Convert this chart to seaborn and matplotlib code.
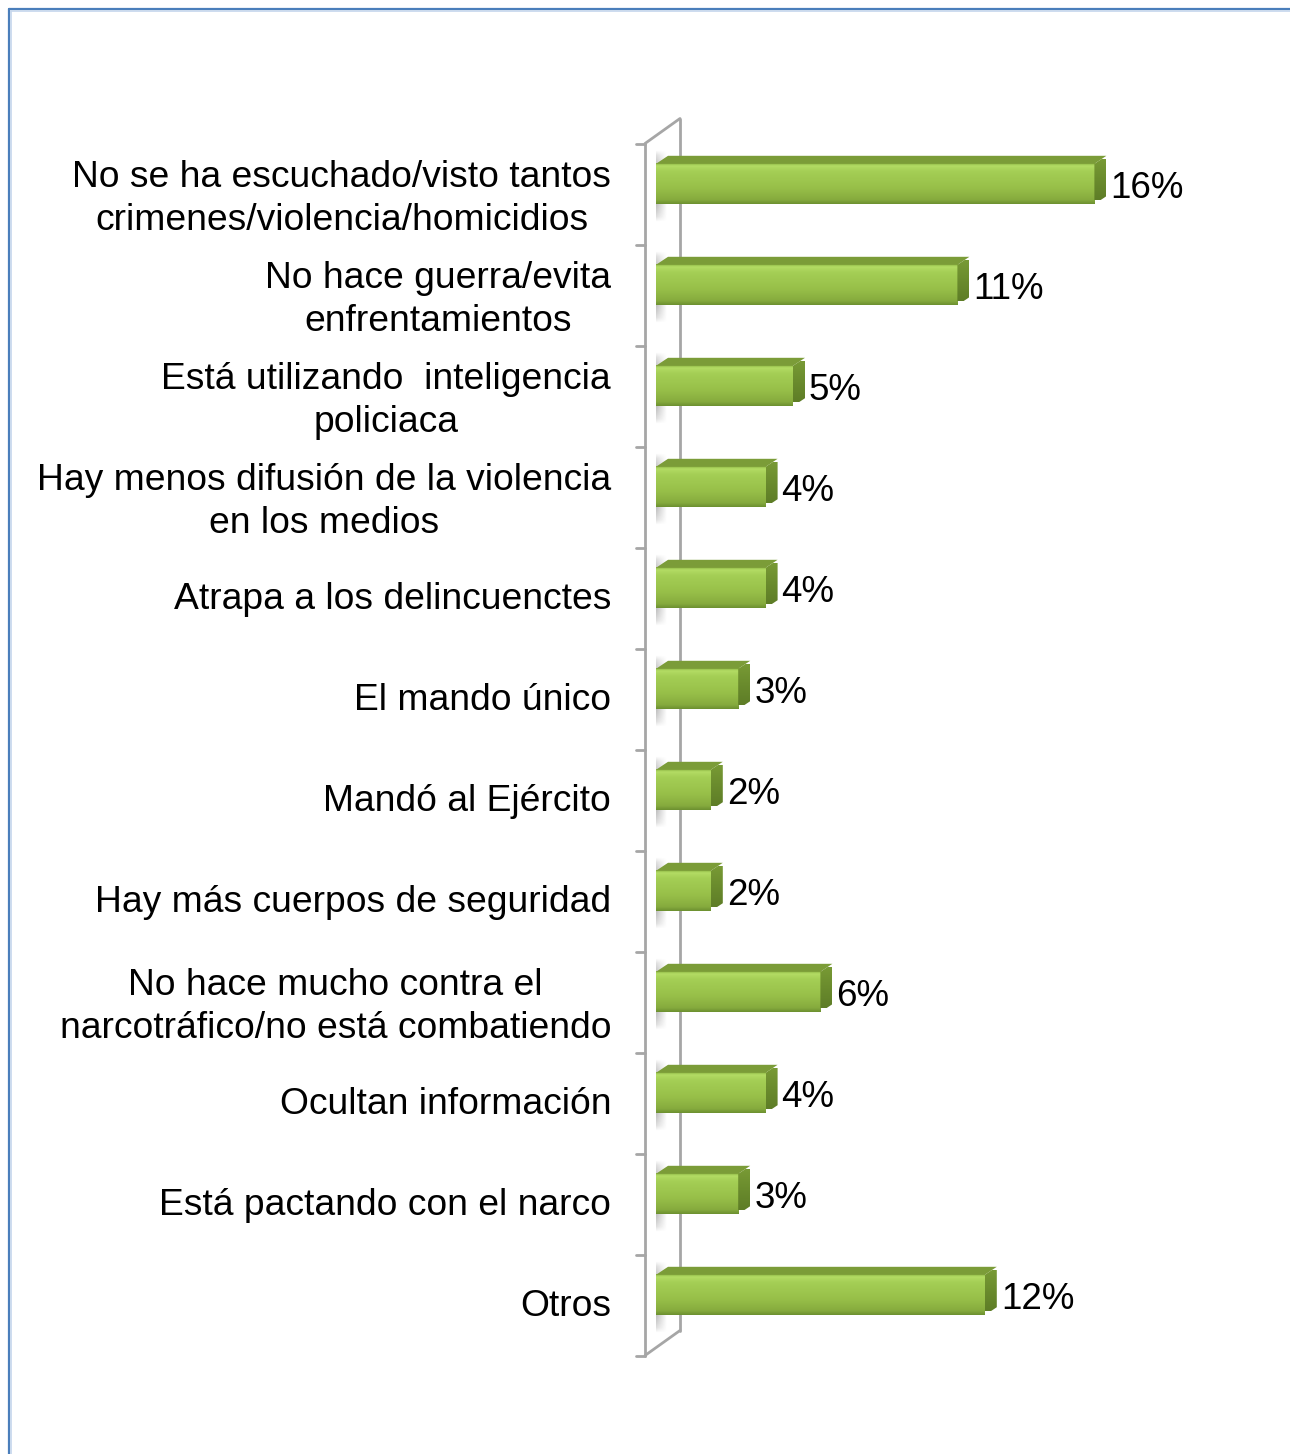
import numpy as np
import seaborn as sns
import matplotlib.pyplot as plt
from matplotlib.colors import LinearSegmentedColormap
from matplotlib.patches import Polygon
from matplotlib.lines import Line2D

categories = [
    "No se ha escuchado/visto tantos\ncrimenes/violencia/homicidios",
    "No hace guerra/evita\nenfrentamientos",
    "Está utilizando  inteligencia\npoliciaca",
    "Hay menos difusión de la violencia\nen los medios",
    "Atrapa a los delincuenctes",
    "El mando único",
    "Mandó al Ejército",
    "Hay más cuerpos de seguridad",
    "No hace mucho contra el\nnarcotráfico/no está combatiendo",
    "Ocultan información",
    "Está pactando con el narco",
    "Otros",
]
values = [16, 11, 5, 4, 4, 3, 2, 2, 6, 4, 3, 12]
value_labels = [f"{v}%" for v in values]

sns.set_style('white')
plt.rcParams['font.family'] = ['Liberation Sans', 'DejaVu Sans']
plt.rcParams['text.color'] = 'black'
plt.rcParams['ytick.color'] = 'black'
plt.rcParams['ytick.labelcolor'] = 'black'

W, H = 1290, 1454
fig = plt.figure(figsize=(W / 100, H / 100), dpi=100)
px = 27.4  # pixels per percent
x_left, y_top, y_bot = 656, 133.5, 1345.5
ax = fig.add_axes([x_left / W, 1 - y_bot / H, (W - x_left) / W, (y_bot - y_top) / H])

sns.barplot(x=values, y=categories, orient='h', color='#9bc44a', width=0.4,
            saturation=1, ax=ax, zorder=3)

xmax = (W - x_left) / px
ppu = (y_bot - y_top) / 12.0  # pixels per category unit
dx = 12 / px
dy = -8 / ppu

front = LinearSegmentedColormap.from_list('front', [
    (0.0, '#8db543'), (0.06, '#b3dc64'), (0.2, '#a4ce55'),
    (0.6, '#98c049'), (0.9, '#86ab3e'), (1.0, '#6d9131')])
grad = front(np.linspace(0, 1, 64))[:, None, :]
side = LinearSegmentedColormap.from_list('side', ['#789a35', '#6a8b2d', '#5e7d27'])
sgrad = side(np.linspace(0, 1, 64))[:, None, :]

shadow = np.zeros((16, 32, 4))
shadow[..., :3] = 0.55
fade_x = np.linspace(0.7, 0.0, 32)
fade_y = np.sin(np.linspace(0, np.pi, 16)) ** 0.6
shadow[..., 3] = fade_y[:, None] * fade_x[None, :]

for i, bar in enumerate(ax.patches):
    x0 = bar.get_x()
    x1 = x0 + bar.get_width()
    yt = bar.get_y()
    yb = yt + bar.get_height()
    bar.set_alpha(0)
    # soft shadow on the wall
    ax.imshow(shadow, extent=(x0, x0 + 0.4, yb + 0.2, yt - 0.15),
              aspect='auto', zorder=1, interpolation='bilinear')
    # front face gradient
    ax.imshow(grad, extent=(x0, x1, yb, yt), aspect='auto', zorder=3,
              interpolation='bilinear')
    # top face
    ax.add_patch(Polygon([(x0, yt), (x1, yt), (x1 + dx, yt + dy), (x0 + dx, yt + dy)],
                         closed=True, facecolor='#7b9c38', edgecolor='none', zorder=4))
    # right side face
    ax.imshow(sgrad, extent=(x1, x1 + dx, yb + dy / 2, yt + dy / 2), aspect='auto',
              zorder=4, interpolation='bilinear')
    sp = Polygon([(x1, yt), (x1 + dx, yt + dy), (x1 + dx, yb + dy), (x1, yb)], closed=True,
                 facecolor='none', edgecolor='none')
    ax.add_patch(sp)
    ax.images[-1].set_clip_path(sp)
    ax.text(x1 + dx + 4 / px, (yt + yb) / 2 + 0.04, value_labels[i], ha='left',
            va='center', fontsize=26.5, color='black', zorder=5)

# wall: front edge, back edge and ticks
wall_c = '#a6a6a6'
wx0 = -11 / px
wx1 = 24 / px
wdy = -25 / ppu
top_b = -0.5 + 10 / ppu
bot_b = top_b + 12
ax.plot([wx0, wx0], [top_b, bot_b], color=wall_c, lw=2, clip_on=False, zorder=2)
ax.plot([wx1, wx1], [top_b + wdy, bot_b + wdy], color=wall_c, lw=2, clip_on=False, zorder=2)
ax.plot([wx0, wx1], [top_b, top_b + wdy], color=wall_c, lw=2, clip_on=False, zorder=2)
ax.plot([wx0, wx1], [bot_b, bot_b + wdy], color=wall_c, lw=2, clip_on=False, zorder=2)
for k in range(13):
    yk = top_b + k
    ax.plot([wx0 - 9 / px, wx0], [yk, yk], color=wall_c, lw=2, clip_on=False, zorder=2)

ax.set_xlim(0, xmax)
ax.set_ylim(11.5, -0.5)
ax.set_yticks(np.arange(12) + 0.07, categories)
ax.tick_params(axis='y', length=0, pad=45 * 0.72, labelsize=26.8, labelcolor='black')
for t in ax.get_yticklabels():
    t.set_multialignment('center')
    t.set_linespacing(1.3)
ax.set_xticks([])
ax.set_xlabel('')
ax.set_ylabel('')
for s in ax.spines.values():
    s.set_visible(False)
ax.patch.set_alpha(0)

# blue frame at the top and left of the picture
fig.add_artist(Line2D([9 / W, 9 / W], [0, 1 - 9 / H], color='#4a7ebb', lw=1.6))
fig.add_artist(Line2D([9 / W, 1], [1 - 9 / H, 1 - 9 / H], color='#4a7ebb', lw=1.6))
fig.add_artist(Line2D([11 / W, 11 / W], [0, 1 - 11 / H], color='#c5d6ec', lw=1.2))
fig.add_artist(Line2D([11 / W, 1], [1 - 11 / H, 1 - 11 / H], color='#c5d6ec', lw=1.2))

fig.savefig('out.png', dpi=100)
